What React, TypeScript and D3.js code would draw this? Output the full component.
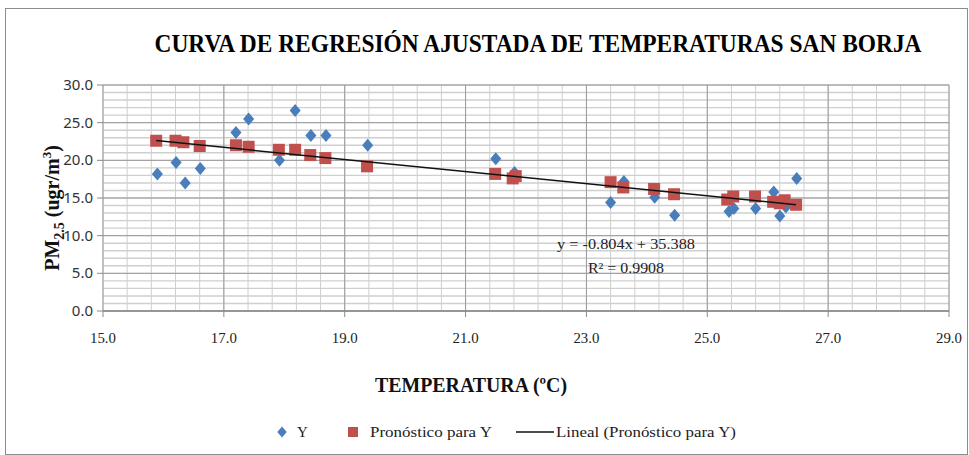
import React from "react";
import * as d3 from "d3";

const W = 969;
const H = 455;

// Temperatura (x), PM2.5 observado (Y) y pronóstico
const tempY = [15.9, 16.21, 16.36, 16.61, 17.2, 17.41, 17.92, 18.18, 18.44, 18.69, 19.38, 21.5, 21.78, 21.81, 23.4, 23.62, 24.13, 24.46, 25.36, 25.44, 25.8, 26.1, 26.2, 26.3, 26.48];
const valY = [18.2, 19.7, 17.0, 18.9, 23.7, 25.5, 20.0, 26.6, 23.3, 23.3, 22.0, 20.2, 17.7, 18.4, 14.4, 17.2, 15.1, 12.7, 13.2, 13.6, 13.6, 15.8, 12.6, 13.8, 17.6];

const tempP = [15.88, 16.2, 16.33, 16.6, 17.2, 17.41, 17.91, 18.18, 18.43, 18.68, 19.37, 21.49, 21.78, 21.83, 23.4, 23.61, 24.12, 24.45, 25.33, 25.43, 25.79, 26.09, 26.2, 26.28, 26.47];
const valP = [22.6, 22.6, 22.4, 21.9, 22.0, 21.8, 21.4, 21.4, 20.7, 20.3, 19.2, 18.2, 17.6, 17.9, 17.1, 16.4, 16.2, 15.5, 14.8, 15.2, 15.2, 14.5, 14.3, 14.7, 14.1];

const slope = -0.804;
const intercept = 35.388;

const xTicks = [15, 17, 19, 21, 23, 25, 27, 29];
const yTicks = [0, 5, 10, 15, 20, 25, 30];

const serif = "'Liberation Serif', 'Times New Roman', serif";
const sans = "'Noto Sans', 'Open Sans', sans-serif";

export default function App() {
  const x = d3.scaleLinear().domain([15, 29]).range([103, 949]);
  const y = d3.scaleLinear().domain([0, 30]).range([311, 85]);

  const minorX = d3.range(15, 29.001, 0.4);
  const minorY = d3.range(0, 30.001, 1);

  const fmt = d3.format(".1f");
  const xMin = d3.min(tempP)!;
  const xMax = d3.max(tempP)!;
  const line = d3.line<number>().x((t) => x(t)).y((t) => y(slope * t + intercept));

  const diamond = (cx: number, cy: number, r: number) =>
    `M${cx},${cy - r}L${cx + r * 0.85},${cy}L${cx},${cy + r}L${cx - r * 0.85},${cy}Z`;

  return (
    <div style={{ position: "absolute", left: 0, top: 0 }}>
      <svg width={W} height={H} style={{ display: "block", background: "#fff" }}>
        <rect x={5.5} y={8.5} width={962} height={446} fill="none" stroke="#8c8c8c" />

        <text x={538} y={52} textAnchor="middle" fontFamily={serif} fontWeight="bold" fontSize={26}
          textLength={767} lengthAdjust="spacingAndGlyphs">
          CURVA DE REGRESIÓN AJUSTADA DE TEMPERATURAS SAN BORJA
        </text>

        {/* minor grid */}
        {minorX.map((t, i) => (
          <line key={"mx" + i} x1={x(t)} x2={x(t)} y1={y(30)} y2={y(0)} stroke="#cfcfcf" />
        ))}
        {minorY.map((v, i) => (
          <line key={"my" + i} x1={x(15)} x2={x(29)} y1={y(v)} y2={y(v)} stroke="#cfcfcf" strokeWidth={1.4} />
        ))}
        {/* major grid */}
        {xTicks.map((t) => (
          <line key={"gx" + t} x1={x(t)} x2={x(t)} y1={y(30)} y2={y(0)} stroke="#9a9a9a" />
        ))}
        {yTicks.map((v) => (
          <line key={"gy" + v} x1={x(15)} x2={x(29)} y1={y(v)} y2={y(v)} stroke="#9a9a9a" />
        ))}

        {/* axes */}
        <line x1={x(15)} x2={x(29)} y1={y(0)} y2={y(0)} stroke="#8a8a8a" strokeWidth={1.5} />
        {xTicks.map((t) => (
          <g key={"xt" + t}>
            <line x1={x(t)} x2={x(t)} y1={y(0)} y2={y(0) + 6} stroke="#8a8a8a" />
            <text x={x(t)} y={y(0) + 32} textAnchor="middle" fontFamily={serif} fontSize={15} fill="#222"
              textLength={26} lengthAdjust="spacingAndGlyphs">
              {fmt(t)}
            </text>
          </g>
        ))}
        {yTicks.map((v) => (
          <g key={"yt" + v}>
            <line x1={x(15) - 6} x2={x(15)} y1={y(v)} y2={y(v)} stroke="#8a8a8a" />
            <text x={x(15) - 10} y={y(v) + 5} textAnchor="end" fontFamily={sans} fontSize={15} fill="#333">
              {fmt(v)}
            </text>
          </g>
        ))}

        {/* observed Y */}
        {tempY.map((t, i) => (
          <path key={"d" + i} d={diamond(x(t), y(valY[i]), 6.5)} fill="#4a7ebb" />
        ))}
        {/* predicted */}
        {tempP.map((t, i) => (
          <rect key={"s" + i} x={x(t) - 6} y={y(valP[i]) - 6} width={12} height={12} fill="#c0504d" />
        ))}
        {/* trend line */}
        <path d={line([xMin, xMax]) || ""} stroke="#111" strokeWidth={1.5} fill="none" />

        <text x={557} y={249} fontFamily={serif} fontSize={15} fill="#222" textLength={138} lengthAdjust="spacingAndGlyphs">
          y = -0.804x  + 35.388
        </text>
        <text x={588} y={273} fontFamily={serif} fontSize={15} fill="#222" textLength={76} lengthAdjust="spacingAndGlyphs">
          R² = 0.9908
        </text>

        {/* axis titles */}
        <text transform="translate(59,208) rotate(-90)" textAnchor="middle" fontFamily={serif} fontWeight="bold" fontSize={20} fill="#111">
          PM<tspan fontSize={14} dy={5}>2.5</tspan>
          <tspan dy={-5}> (ugr/m</tspan>
          <tspan fontSize={13} dy={-8}>3</tspan>
          <tspan dy={8}>)</tspan>
        </text>
        <text x={471} y={392} textAnchor="middle" fontFamily={serif} fontWeight="bold" fontSize={21} fill="#111"
          textLength={192} lengthAdjust="spacingAndGlyphs">
          TEMPERATURA (ºC)
        </text>

        {/* legend */}
        <path d={diamond(282, 432, 5.5)} fill="#4a7ebb" />
        <text x={297} y={437} fontFamily={serif} fontSize={15} fill="#222">Y</text>
        <rect x={348} y={427} width={10} height={10} fill="#c0504d" />
        <text x={370} y={437} fontFamily={serif} fontSize={15} fill="#222" textLength={122} lengthAdjust="spacingAndGlyphs">
          Pronóstico para Y
        </text>
        <line x1={516} x2={554} y1={432} y2={432} stroke="#111" strokeWidth={1.5} />
        <text x={556} y={437} fontFamily={serif} fontSize={15} fill="#222" textLength={180} lengthAdjust="spacingAndGlyphs">
          Lineal (Pronóstico para Y)
        </text>
      </svg>
    </div>
  );
}
